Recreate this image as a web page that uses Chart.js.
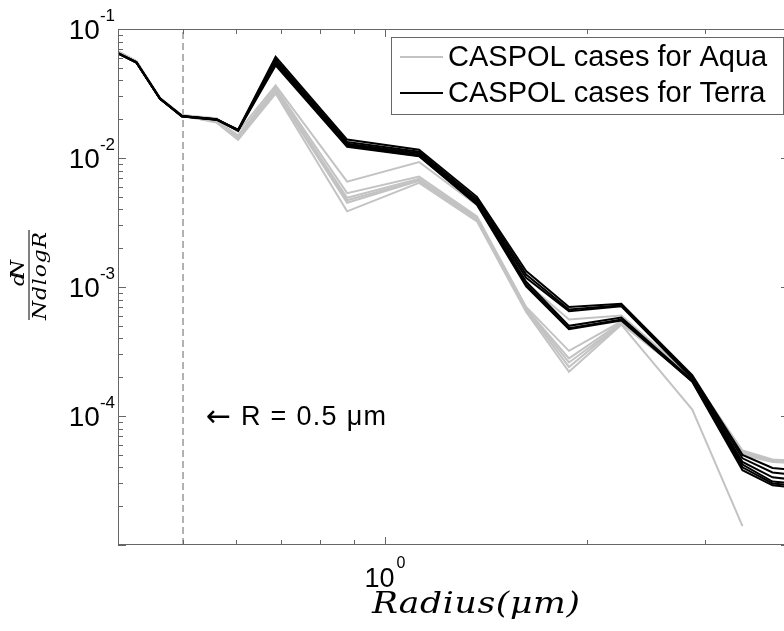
<!DOCTYPE html>
<html>
<head>
<meta charset="utf-8">
<title>CASPOL size distributions</title>
<script src="https://cdn.jsdelivr.net/npm/chart.js@4/dist/chart.umd.min.js"></script>
<style>
  html, body { margin: 0; padding: 0; background: #fff; overflow: hidden; }
  #sizeChart { display: block; }
</style>
</head>
<body>
<canvas id="sizeChart" width="792" height="631"></canvas>
<script>
// bin radii (um)
const radius = [0.40, 0.426, 0.462, 0.498, 0.561, 0.604, 0.687, 0.878, 1.124, 1.371, 1.623, 1.88, 2.25, 2.87, 3.41, 3.78, 4.2];

// dN / (N dlogR) for the Terra cases (black)
const terra1 = [0.0650, 0.0552, 0.0290, 0.0212, 0.0200, 0.0166, 0.0610, 0.0139, 0.0116, 0.00500, 0.00133, 0.00070, 0.00074, 0.000207, 0.0000500, 0.0000395, 0.0000375];
const terra2 = [0.0648, 0.0550, 0.0288, 0.0211, 0.0199, 0.0164, 0.0585, 0.0133, 0.0112, 0.00480, 0.00125, 0.00067, 0.00072, 0.000200, 0.0000470, 0.0000365, 0.0000345];
const terra3 = [0.0646, 0.0553, 0.0287, 0.0210, 0.0198, 0.0163, 0.0565, 0.0129, 0.0109, 0.00460, 0.00118, 0.00065, 0.00071, 0.000196, 0.0000440, 0.0000335, 0.0000315];
const terra4 = [0.0650, 0.0551, 0.0289, 0.0211, 0.0199, 0.0165, 0.0550, 0.0126, 0.0106, 0.00450, 0.00110, 0.00050, 0.00058, 0.000190, 0.0000420, 0.0000310, 0.0000295];
const terra5 = [0.0647, 0.0550, 0.0288, 0.0212, 0.0200, 0.0164, 0.0535, 0.0124, 0.0104, 0.00440, 0.00105, 0.00048, 0.00056, 0.000186, 0.0000400, 0.0000300, 0.0000285];
const terra6 = [0.0649, 0.0552, 0.0289, 0.0211, 0.0198, 0.0163, 0.0522, 0.0122, 0.0103, 0.00435, 0.00101, 0.00047, 0.00055, 0.000184, 0.0000380, 0.0000290, 0.0000275];

// dN / (N dlogR) for the Aqua cases (gray)
const aqua1 = [0.0670, 0.0565, 0.0292, 0.0215, 0.0203, 0.0160, 0.0366, 0.00656, 0.00930, 0.00430, 0.00108, 0.00056, 0.00060, 0.000200, 0.0000540, 0.0000460, 0.0000445];
const aqua2 = [0.0668, 0.0563, 0.0290, 0.0214, 0.0195, 0.0150, 0.0350, 0.00534, 0.00717, 0.00352, 0.00070, 0.00032, 0.00054, 0.000196, 0.0000530, 0.0000455, 0.0000450];
const aqua3 = [0.0672, 0.0560, 0.0291, 0.0213, 0.0192, 0.0145, 0.0335, 0.00492, 0.00690, 0.00340, 0.00068, 0.00028, 0.00053, 0.000194, 0.0000520, 0.0000450, 0.0000445];
const aqua4 = [0.0669, 0.0562, 0.0290, 0.0212, 0.0190, 0.0141, 0.0325, 0.00450, 0.00665, 0.00330, 0.00066, 0.00024, 0.00052, 0.000190, 0.0000510, 0.0000445, 0.0000440];
const aqua5 = [0.0671, 0.0561, 0.0289, 0.0213, 0.0188, 0.0138, 0.0316, 0.00386, 0.00641, 0.00323, 0.00064, 0.00022, 0.00051, 0.000112, 0.0000140, null, null];
const aqua6 = [0.0667, 0.0564, 0.0291, 0.0214, 0.0193, 0.0147, 0.0340, 0.00470, 0.00670, 0.00345, 0.00067, 0.00026, 0.00052, 0.000192, 0.0000500, 0.0000440, 0.0000430];

// the R = 0.5 um marker
const refX = [0.5, 0.5];
const refY = [1e-5, 1e-1];

// axes
const xRange = [0.4, 4];
const yRange = [1e-5, 1e-1];
const xMajorTicks = [1];
const xMajorLabels = ['0'];
const xMinorTicks = [0.5, 0.6, 0.7, 0.8, 0.9, 2, 3, 4];
const yMajorTicks = [1e-5, 1e-4, 1e-3, 1e-2, 1e-1];
const yMajorLabels = ['', '-4', '-3', '-2', '-1'];

const legendLabels = ['CASPOL cases for Aqua', 'CASPOL cases for Terra'];
const aquaColor = '#c3c3c3';
const terraColor = '#000000';
const axisColor = '#666666';
const sans = '"Liberation Sans", Arial, sans-serif';
const serif = '"DejaVu Serif", "Liberation Serif", serif';

const toPoints = (ys) => radius.map((r, i) => ({ x: r, y: ys[i] }));

const lineSet = (label, ys, color) => ({
  label,
  data: toPoints(ys),
  borderColor: color,
  backgroundColor: color,
  borderWidth: 2,
  pointRadius: 0,
  tension: 0,
  fill: false,
});

// dataset 0 ends up on top, so black first, then gray, then the marker
const datasets = [
  lineSet('Terra 1', terra1, terraColor),
  lineSet('Terra 2', terra2, terraColor),
  lineSet('Terra 3', terra3, terraColor),
  lineSet('Terra 4', terra4, terraColor),
  lineSet('Terra 5', terra5, terraColor),
  lineSet('Terra 6', terra6, terraColor),
  lineSet('Aqua 1', aqua1, aquaColor),
  lineSet('Aqua 2', aqua2, aquaColor),
  lineSet('Aqua 3', aqua3, aquaColor),
  lineSet('Aqua 4', aqua4, aquaColor),
  lineSet('Aqua 5', aqua5, aquaColor),
  lineSet('Aqua 6', aqua6, aquaColor),
  {
    label: 'R = 0.5',
    data: refX.map((x, i) => ({ x, y: refY[i] })),
    borderColor: '#8a8a8a',
    borderWidth: 1.3,
    borderDash: [7, 4],
    pointRadius: 0,
    fill: false,
  },
];

// write text spread out to a given width (latex-ish letter spacing),
// optionally widening the glyphs a bit first
const drawSpread = (ctx, text, x, y, width, stretch = 1) => {
  const chars = Array.from(text);
  const widths = chars.map((c) => ctx.measureText(c).width * stretch);
  const total = widths.reduce((a, b) => a + b, 0);
  const gap = chars.length > 1 ? (width - total) / (chars.length - 1) : 0;
  let cx = x;
  chars.forEach((c, i) => {
    ctx.save();
    ctx.translate(cx, y);
    ctx.scale(stretch, 1);
    ctx.fillText(c, 0, 0);
    ctx.restore();
    cx += widths[i] + gap;
  });
};

const decorPlugin = {
  id: 'decor',
  afterDraw(chart) {
    const { ctx, chartArea: a } = chart;
    const xs = chart.scales.x;
    const ys = chart.scales.y;
    ctx.save();

    // box
    ctx.strokeStyle = axisColor;
    ctx.lineWidth = 1;
    ctx.strokeRect(a.left + 0.5, a.top + 0.5, a.right - a.left - 1, a.bottom - a.top - 1);

    const vTick = (v, len) => {
      const px = Math.round(xs.getPixelForValue(v)) + 0.5;
      ctx.beginPath();
      ctx.moveTo(px, a.bottom);
      ctx.lineTo(px, a.bottom - len);
      ctx.moveTo(px, a.top);
      ctx.lineTo(px, a.top + len);
      ctx.stroke();
    };
    const hTick = (v, len) => {
      const py = Math.round(ys.getPixelForValue(v)) + 0.5;
      ctx.beginPath();
      ctx.moveTo(a.left, py);
      ctx.lineTo(a.left + len, py);
      ctx.moveTo(a.right, py);
      ctx.lineTo(a.right - len, py);
      ctx.stroke();
    };
    xMajorTicks.forEach((v) => vTick(v, 8));
    xMinorTicks.forEach((v) => vTick(v, 5));
    yMajorTicks.forEach((v, i) => {
      hTick(v, 8);
      if (i < yMajorTicks.length - 1) {
        for (let m = 2; m < 10; m += 1) hTick(v * m, 5);
      }
    });

    // tick labels 10^n
    ctx.fillStyle = '#000';
    ctx.textBaseline = 'alphabetic';
    yMajorTicks.forEach((v, i) => {
      if (!yMajorLabels[i]) return;
      const py = ys.getPixelForValue(v);
      ctx.font = `17px ${sans}`;
      const supW = ctx.measureText(yMajorLabels[i]).width;
      ctx.textAlign = 'right';
      ctx.fillText(yMajorLabels[i], 115, py - 8);
      ctx.font = `28px ${sans}`;
      ctx.fillText('10', 115 - supW, py + 10);
    });
    xMajorTicks.forEach((v, i) => {
      const px = xs.getPixelForValue(v);
      ctx.font = `27px ${sans}`;
      const baseW = ctx.measureText('10').width;
      ctx.font = `16px ${sans}`;
      const supW = ctx.measureText(xMajorLabels[i]).width;
      const left = px - (baseW + 2 + supW) / 2;
      ctx.textAlign = 'left';
      ctx.fillText(xMajorLabels[i], left + baseW + 2, 568);
      ctx.font = `27px ${sans}`;
      ctx.fillText('10', left, 587);
    });

    // x title
    ctx.font = `italic 30px ${serif}`;
    ctx.textAlign = 'left';
    drawSpread(ctx, 'Radius(\u03bcm)', 372, 613, 208, 1.15);

    // y title, a rotated fraction
    ctx.save();
    ctx.translate(29, 275);
    ctx.rotate(-Math.PI / 2);
    ctx.font = `italic 19px ${serif}`;
    const numW = 30;
    const denW = 90;
    drawSpread(ctx, 'dN', -numW / 2 + 4, -5, numW - 4, 1.1);
    drawSpread(ctx, 'NdlogR', -denW / 2, 17, denW - 2, 1.15);
    ctx.strokeStyle = '#000';
    ctx.lineWidth = 1;
    ctx.beginPath();
    ctx.moveTo(-denW / 2, 0);
    ctx.lineTo(denW / 2, 0);
    ctx.stroke();
    ctx.restore();

    // R = 0.5 um note: arrow from DejaVu (bigger glyph), rest in sans
    const noteX = xs.getPixelForValue(refX[0]) + 23;
    const noteY = ys.getPixelForValue(1e-4) + 2;
    ctx.textAlign = 'left';
    ctx.textBaseline = 'middle';
    ctx.font = '30px "DejaVu Sans", sans-serif';
    ctx.fillText('\u2190', noteX, noteY);
    ctx.font = `27px ${sans}`;
    drawSpread(ctx, 'R = 0.5 \u03bcm', noteX + 35, noteY, 145);

    // legend box
    const lx = 391;
    const ly = 37;
    ctx.fillStyle = '#fff';
    ctx.fillRect(lx, ly, 392, 77);
    ctx.strokeStyle = axisColor;
    ctx.lineWidth = 1;
    ctx.strokeRect(lx + 0.5, ly + 0.5, 392, 77);
    [aquaColor, terraColor].forEach((c, i) => {
      const rowY = ly + 20 + i * 36;
      ctx.strokeStyle = c;
      ctx.lineWidth = 2;
      ctx.beginPath();
      ctx.moveTo(lx + 9, rowY);
      ctx.lineTo(lx + 52, rowY);
      ctx.stroke();
      ctx.fillStyle = '#000';
      ctx.font = `29px ${sans}`;
      ctx.textBaseline = 'middle';
      ctx.fillText(legendLabels[i], lx + 57, rowY + 1);
    });

    ctx.restore();
  },
};

const ctx = document.getElementById('sizeChart').getContext('2d');
const sizeChart = new Chart(ctx, {
  type: 'line',
  data: { datasets },
  options: {
    responsive: false,
    animation: false,
    devicePixelRatio: 1,
    layout: { padding: { left: 118, top: 29, right: 3, bottom: 86 } },
    plugins: { legend: { display: false }, tooltip: { enabled: false } },
    scales: {
      x: { type: 'logarithmic', min: xRange[0], max: xRange[1], display: false },
      y: { type: 'logarithmic', min: yRange[0], max: yRange[1], display: false },
    },
  },
  plugins: [decorPlugin],
});
</script>
</body>
</html>
